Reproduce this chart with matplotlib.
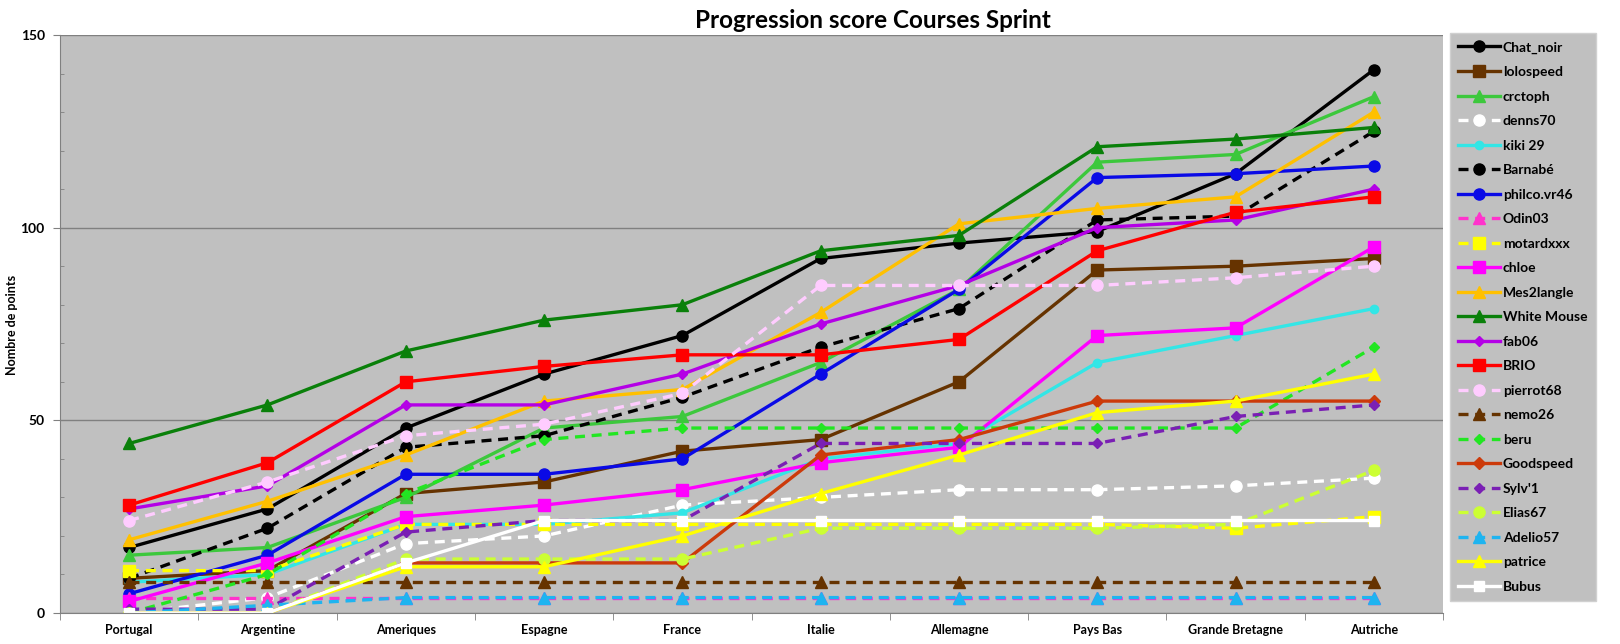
import numpy as np
import matplotlib
matplotlib.use('Agg')
from matplotlib import pyplot as plt
from matplotlib.ticker import MultipleLocator

plt.rcParams['font.family'] = ['Lato', 'DejaVu Sans']

courses = ['Portugal', 'Argentine', 'Ameriques', 'Espagne', 'France', 'Italie',
           'Allemagne', 'Pays Bas', 'Grande Bretagne', 'Autriche']

# scores cumulés par pilote
chat_noir = [17, 27, 48, 62, 72, 92, 96, 99, 114, 141]
lolospeed = [9, 11, 31, 34, 42, 45, 60, 89, 90, 92]
crctoph = [15, 17, 30, 48, 51, 65, 84, 117, 119, 134]
denns70 = [0, 4, 18, 20, 28, 30, 32, 32, 33, 35]
kiki29 = [8, 10, 23, 23, 26, 40, 44, 65, 72, 79]
barnabe = [9, 22, 43, 46, 56, 69, 79, 102, 103, 125]
philco = [5, 15, 36, 36, 40, 62, 84, 113, 114, 116]
odin03 = [4, 4, 4, 4, 4, 4, 4, 4, 4, 4]
motardxxx = [11, 11, 23, 23, 23, 23, 23, 23, 22, 25]
chloe = [3, 13, 25, 28, 32, 39, 43, 72, 74, 95]
mes2langle = [19, 29, 41, 55, 58, 78, 101, 105, 108, 130]
white_mouse = [44, 54, 68, 76, 80, 94, 98, 121, 123, 126]
fab06 = [27, 33, 54, 54, 62, 75, 85, 100, 102, 110]
brio = [28, 39, 60, 64, 67, 67, 71, 94, 104, 108]
pierrot68 = [24, 34, 46, 49, 57, 85, 85, 85, 87, 90]
nemo26 = [8, 8, 8, 8, 8, 8, 8, 8, 8, 8]
beru = [0, 10, 31, 45, 48, 48, 48, 48, 48, 69]
goodspeed = [0, 0, 13, 13, 13, 41, 45, 55, 55, 55]
sylv1 = [1, 1, 21, 24, 24, 44, 44, 44, 51, 54]
elias67 = [0, 0, 14, 14, 14, 22, 22, 22, 23, 37]
adelio57 = [0, 2, 4, 4, 4, 4, 4, 4, 4, 4]
patrice = [0, 0, 12, 12, 20, 31, 41, 52, 55, 62]
bubus = [0, 0, 13, 24, 24, 24, 24, 24, 24, 24]

# (nom, valeurs, couleur, style, marqueur, taille)
series = [
    ('Chat_noir', chat_noir, '#000000', '-', 'o', 8),
    ('lolospeed', lolospeed, '#663300', '-', 's', 8),
    ('crctoph', crctoph, '#3CC83C', '-', '^', 8),
    ('denns70', denns70, '#FFFFFF', '--', 'o', 8),
    ('kiki 29', kiki29, '#33E6E6', '-', 'o', 6),
    ('Barnabé', barnabe, '#000000', '--', 'o', 8),
    ('philco.vr46', philco, '#0A0AE6', '-', 'o', 8),
    ('Odin03', odin03, '#FF33CC', '--', '^', 8),
    ('motardxxx', motardxxx, '#FFFF00', '--', 's', 8),
    ('chloe', chloe, '#FF00FF', '-', 's', 8),
    ('Mes2langle', mes2langle, '#FFC000', '-', '^', 8),
    ('White Mouse', white_mouse, '#0A800A', '-', '^', 8),
    ('fab06', fab06, '#B400E6', '-', 'D', 5.5),
    ('BRIO', brio, '#FF0000', '-', 's', 8),
    ('pierrot68', pierrot68, '#FFCCFF', '--', 'o', 8),
    ('nemo26', nemo26, '#663300', '--', '^', 8),
    ('beru', beru, '#22E622', '--', 'D', 5.5),
    ('Goodspeed', goodspeed, '#CC3A0A', '-', 'D', 6),
    ("Sylv'1", sylv1, '#7A1FB4', '--', 'D', 5.5),
    ('Elias67', elias67, '#CCFF33', '--', 'o', 8),
    ('Adelio57', adelio57, '#1EB4F0', '--', '^', 8),
    ('patrice', patrice, '#FFFF00', '-', '^', 8),
    ('Bubus', bubus, '#FFFFFF', '-', 's', 7),
]

fig = plt.figure(figsize=(16.2, 6.44), dpi=100)
ax = fig.add_axes([60 / 1620, 1 - 613 / 644, 1383 / 1620, 578 / 644])
ax.set_facecolor('#C0C0C0')

x = np.arange(len(courses))
for nom, vals, couleur, style, marq, taille in series:
    ax.plot(x, vals, color=couleur, linestyle=style, linewidth=2.4,
            dashes=(3, 2) if style == '--' else (None, None),
            marker=marq, markersize=taille, markerfacecolor=couleur,
            markeredgecolor=couleur, label=nom)

ax.set_xlim(-0.5, len(courses) - 0.5)
ax.set_ylim(0, 150)
ax.set_xticks(x)
ax.set_xticklabels(courses, fontsize=9, fontweight='bold')
ax.set_xticks(np.arange(-0.5, len(courses)), minor=True)
ax.tick_params(axis='x', which='major', length=0, pad=8)
ax.tick_params(axis='x', which='minor', length=5, color='#808080', direction='out')

ax.yaxis.set_major_locator(MultipleLocator(50))
ax.yaxis.set_minor_locator(MultipleLocator(10))
ax.tick_params(axis='y', which='major', length=5, color='#808080', labelsize=10, pad=6)
ax.tick_params(axis='y', which='minor', length=3, color='#808080', direction='in')
for lab in ax.get_yticklabels():
    lab.set_fontweight('bold')
ax.grid(axis='y', which='major', color='#808080', linewidth=1)
ax.set_axisbelow(True)

for s in ['top', 'right']:
    ax.spines[s].set_visible(False)
ax.spines['left'].set_color('#808080')
ax.spines['bottom'].set_color('#808080')

fig.text(12 / 1620, 1 - 325 / 644, 'Nombre de points', rotation=90,
         ha='center', va='center', fontsize=9, fontweight='bold')

fig.text(873 / 1620, 1 - 21 / 644, 'Progression score Courses Sprint',
         ha='center', va='center', fontsize=17.5, fontweight='bold')

leg = fig.legend(loc='upper left', bbox_to_anchor=(1450 / 1620, 1 - 33 / 644),
                 prop={'weight': 'bold', 'size': 10}, handlelength=3.0,
                 handletextpad=0.2, labelspacing=0.9, borderpad=0.6,
                 frameon=True, fancybox=False, borderaxespad=0)
leg.get_frame().set_facecolor('#C0C0C0')
leg.get_frame().set_edgecolor('#D0D0D0')
leg.get_frame().set_alpha(1)

fig.savefig('out.png', dpi=100, facecolor='white')
